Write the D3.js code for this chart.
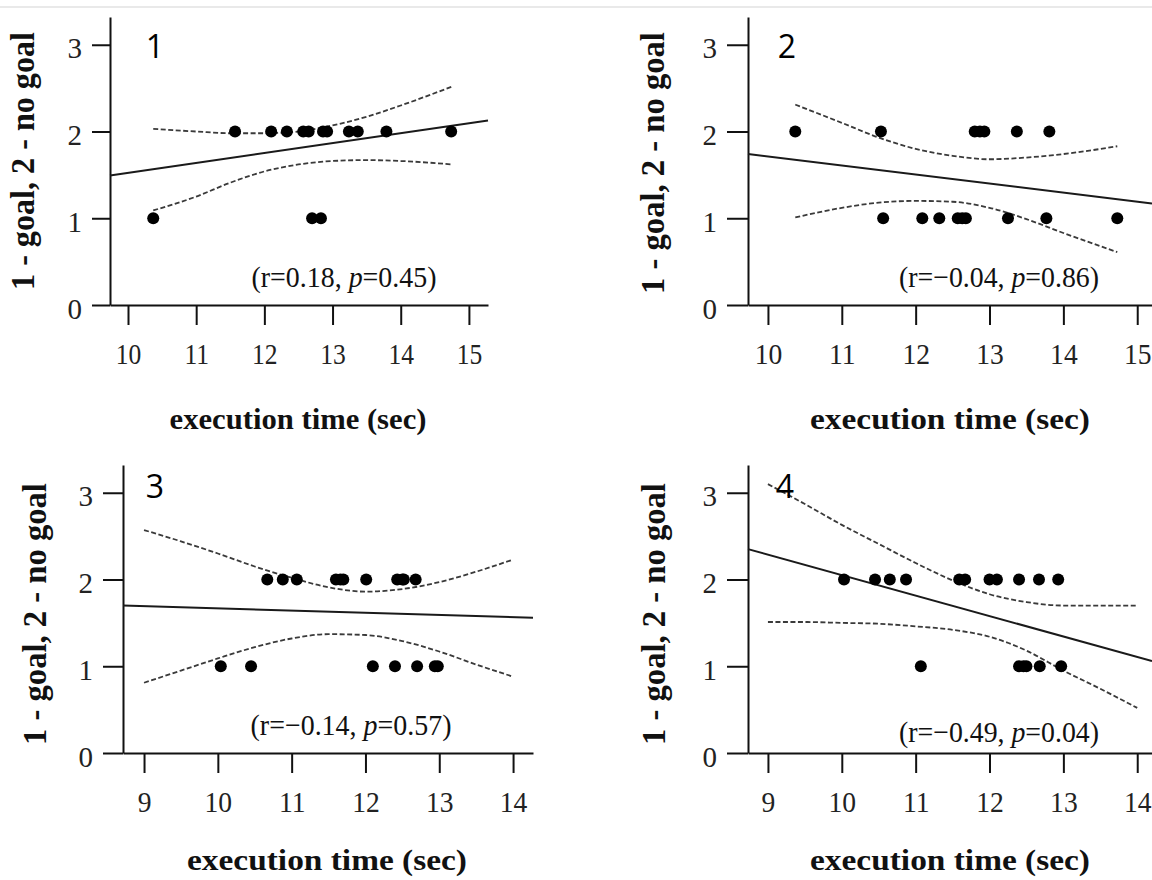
<!DOCTYPE html>
<html>
<head>
<meta charset="utf-8">
<script src="https://cdn.jsdelivr.net/npm/d3@7"></script>
<style>
  body { margin: 0; background: #fff; }
  svg { display: block; }
</style>
</head>
<body>
<script>
// ---- data ----
var yTicks = [0, 1, 2, 3];
var xTicksTop = [10, 11, 12, 13, 14, 15];
var xTicksBottom = [9, 10, 11, 12, 13, 14];
var yDom = [0, 3.32];
var xDom1 = [9.736, 15.28], xDom2 = [9.73, 15.2], xDom3 = [8.715, 14.27], xDom4 = [8.73, 14.2];

var pts1 = [[10.37,1],[11.57,2],[12.10,2],[12.33,2],[12.57,2],[12.65,2],[12.70,1],[12.83,1],
  [12.86,2],[12.92,2],[13.24,2],[13.37,2],[13.79,2],[14.74,2]];
var pts2 = [[10.37,2],[11.53,2],[11.56,1],[12.09,1],[12.32,1],[12.57,1],[12.63,1],[12.68,1],
  [12.80,2],[12.87,2],[12.93,2],[13.25,1],[13.37,2],[13.77,1],[13.81,2],[14.73,1]];
var pts3 = [[10.04,1],[10.45,1],[10.67,2],[10.88,2],[11.07,2],[11.60,2],[11.66,2],[11.70,2],
  [12.01,2],[12.10,1],[12.40,1],[12.43,2],[12.50,2],[12.52,2],[12.68,2],[12.70,1],[12.94,1],[12.98,1]];
var pts4 = [[10.03,2],[10.45,2],[10.65,2],[10.87,2],[11.07,1],[11.59,2],[11.67,2],[12.00,2],
  [12.10,2],[12.40,2],[12.40,1],[12.46,1],[12.50,1],[12.67,2],[12.68,1],[12.93,2],[12.97,1]];

// fitted lines (end points)
var fit1 = [[9.736,1.494],[15.28,2.126]];
var fit2 = [[9.73,1.74],[15.2,1.17]];
var fit3 = [[8.715,1.70],[14.27,1.56]];
var fit4 = [[8.73,2.35],[14.2,1.06]];

// confidence bands
var up1 = [[10.37,2.03],[11,2.0],[11.5,1.98],[12,1.98],[12.5,2.0],[13,2.07],[13.5,2.17],[14,2.3],[14.76,2.52]];
var lo1 = [[10.37,1.09],[11,1.25],[11.5,1.41],[12,1.54],[12.5,1.62],[13,1.66],[13.5,1.67],[14,1.66],[14.76,1.62]];
var up2 = [[10.37,2.31],[11,2.10],[11.5,1.93],[12,1.80],[12.5,1.72],[13,1.68],[13.5,1.70],[14,1.74],[14.73,1.83]];
var lo2 = [[10.37,1.01],[11,1.12],[11.5,1.18],[12,1.20],[12.5,1.19],[13,1.12],[13.5,0.99],[14,0.83],[14.73,0.61]];
var up3 = [[9,2.57],[9.5,2.44],[10,2.30],[10.5,2.15],[11,2.02],[11.5,1.91],[12,1.86],[12.5,1.89],[13,1.97],[13.5,2.09],[14,2.23]];
var lo3 = [[9,0.81],[9.5,0.95],[10,1.09],[10.5,1.22],[11,1.32],[11.5,1.37],[12,1.36],[12.5,1.29],[13,1.17],[13.5,1.02],[14,0.88]];
var up4 = [[9,3.10],[9.5,2.87],[10,2.63],[10.5,2.41],[11,2.19],[11.5,1.99],[12,1.83],[12.5,1.74],[13,1.70],[13.5,1.70],[14,1.70]];
var lo4 = [[9,1.51],[9.5,1.51],[10,1.50],[10.5,1.49],[11,1.46],[11.5,1.42],[12,1.34],[12.5,1.18],[13,0.95],[13.5,0.74],[14,0.52]];

var rVals = ["0.18", "\u22120.04", "\u22120.14", "\u22120.49"];
var pVals = ["0.45", "0.86", "0.57", "0.04"];
var yTitle = "1 - goal, 2 - no goal";
var xTitle = "execution time (sec)";

// ---- layout ----
var serif = "'Liberation Serif', 'Times New Roman', serif";
var panels = [
  { id: "1", pts: pts1, fit: fit1, up: up1, lo: lo1, xDom: xDom1, xTicks: xTicksTop, sx: 1,
    box: [110, 488, 305], tick: 18, num: [155, 58], stat: [344, 287, 185], xlab: [298, 429, 257], ylab: [34, 161, 258] },
  { id: "2", pts: pts2, fit: fit2, up: up2, lo: lo2, xDom: xDom2, xTicks: xTicksTop, sx: 1.08,
    box: [748, 1152, 305], tick: 21, num: [787, 58], stat: [999, 287, 200], xlab: [950, 429, 280], ylab: [664, 163, 262] },
  { id: "3", pts: pts3, fit: fit3, up: up3, lo: lo3, xDom: xDom3, xTicks: xTicksBottom, sx: 1.08,
    box: [123, 533, 753], tick: 20, num: [155, 498], stat: [351, 735, 201], xlab: [327, 870, 280], ylab: [46, 614, 262] },
  { id: "4", pts: pts4, fit: fit4, up: up4, lo: lo4, xDom: xDom4, xTicks: xTicksBottom, sx: 1.08,
    box: [748, 1152, 753], tick: 21, num: [785, 498], stat: [999, 742, 200], xlab: [950, 870, 280], ylab: [665, 614, 262] }
];

var svg = d3.select("body").append("svg")
  .attr("width", 1152)
  .attr("height", 880);

svg.append("line")
  .attr("x1", 0).attr("x2", 1152).attr("y1", 7).attr("y2", 7)
  .attr("stroke", "#e2e2e2").attr("stroke-width", 1.5);

function fitText(sel, w, tf) {
  var k = w / sel.node().getBBox().width;
  sel.attr("transform", tf + " scale(" + k + ",1)");
}

panels.forEach(function(p, i) {
  var x = d3.scaleLinear().domain(p.xDom).range([p.box[0], p.box[1]]);
  var y = d3.scaleLinear().domain(yDom).range([p.box[2], p.box[2] - 288]);
  var g = svg.append("g").attr("id", "panel" + p.id);

  var ya = g.append("g")
    .attr("transform", "translate(" + p.box[0] + ",0)")
    .call(d3.axisLeft(y).tickValues(yTicks).tickSize(p.tick).tickSizeOuter(0)
      .tickPadding(10).tickFormat(d3.format("d")));
  var xa = g.append("g")
    .attr("transform", "translate(0," + p.box[2] + ")")
    .call(d3.axisBottom(x).tickValues(p.xTicks).tickSize(20).tickSizeOuter(0).tickFormat(d3.format("d")));

  [ya, xa].forEach(function(a) {
    a.selectAll("path, line").attr("stroke", "#111").attr("stroke-width", 2);
    a.selectAll("text")
      .style("font-family", serif)
      .style("font-size", "29px")
      .attr("fill", "#222");
  });
  ya.selectAll("text").attr("dy", "0.45em");
  xa.selectAll("text").attr("y", 59).attr("dy", 0)
    .attr("transform", "scale(" + (0.88 * p.sx) + ",1)");

  var straight = d3.line().x(function(d) { return x(d[0]); }).y(function(d) { return y(d[1]); });
  var smooth = d3.line().curve(d3.curveMonotoneX)
    .x(function(d) { return x(d[0]); }).y(function(d) { return y(d[1]); });

  g.append("path").datum(p.fit)
    .attr("d", straight)
    .attr("fill", "none").attr("stroke", "#1a1a1a").attr("stroke-width", 2);

  [p.up, p.lo].forEach(function(band) {
    g.append("path").datum(band)
      .attr("d", smooth)
      .attr("fill", "none").attr("stroke", "#3a3a3a")
      .attr("stroke-width", 1.8).attr("stroke-dasharray", "5,2.5");
  });

  g.selectAll("circle.pt").data(p.pts).join("circle")
    .attr("class", "pt")
    .attr("cx", function(d) { return x(d[0]); })
    .attr("cy", function(d) { return y(d[1]); })
    .attr("r", 6)
    .attr("fill", "#000");

  g.append("text")
    .attr("text-anchor", "middle")
    .attr("transform", "translate(" + p.num[0] + "," + p.num[1] + ")")
    .style("font-family", "'Open Sans', 'Noto Sans', sans-serif")
    .style("font-size", "32px")
    .attr("fill", "#000")
    .text(p.id);

  var st = g.append("text")
    .attr("text-anchor", "middle")
    .style("font-family", serif)
    .style("font-size", "30px")
    .attr("fill", "#111");
  st.append("tspan").text("(r=" + rVals[i] + ", ");
  st.append("tspan").style("font-style", "italic").text("p");
  st.append("tspan").text("=" + pVals[i] + ")");
  fitText(st, p.stat[2], "translate(" + p.stat[0] + "," + p.stat[1] + ")");

  var xl = g.append("text")
    .attr("text-anchor", "middle")
    .style("font-family", serif)
    .style("font-size", "30px")
    .style("font-weight", "bold")
    .attr("fill", "#111")
    .text(xTitle);
  fitText(xl, p.xlab[2], "translate(" + p.xlab[0] + "," + p.xlab[1] + ")");

  var yl = g.append("text")
    .attr("text-anchor", "middle")
    .style("font-family", serif)
    .style("font-size", "33px")
    .style("font-weight", "bold")
    .attr("fill", "#111")
    .text(yTitle);
  fitText(yl, p.ylab[2], "translate(" + p.ylab[0] + "," + p.ylab[1] + ") rotate(-90)");
});
</script>
</body>
</html>
